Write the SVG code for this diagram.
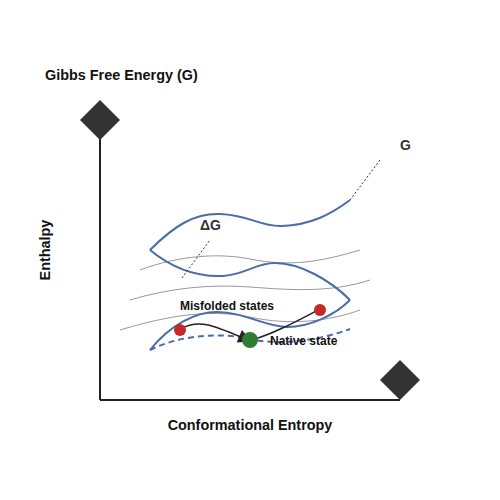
<svg xmlns="http://www.w3.org/2000/svg" width="500" height="500" viewBox="0 0 500 500">
<style>
.lbl{font-family:"Liberation Sans",Arial,sans-serif;font-weight:bold;fill:#111}
.blue{fill:none;stroke:#4a6ca8;stroke-width:2}
.gray{fill:none;stroke:#999;stroke-width:1}
.dot{fill:none;stroke:#333;stroke-width:1;stroke-dasharray:2,2}
</style>
<defs>
<marker id="ah" viewBox="0 0 10 10" refX="7" refY="5" markerWidth="10" markerHeight="9" markerUnits="strokeWidth" orient="auto">
<path d="M0,0 L10,5 L0,10 z" fill="#222"/>
</marker>
</defs>
<rect width="500" height="500" fill="#fff"/>
<g id="axes">
<line x1="100" y1="138" x2="100" y2="400" stroke="#222" stroke-width="2"/>
<line x1="100" y1="400" x2="400" y2="400" stroke="#222" stroke-width="2"/>
<path d="M100,100 L120,120 L100,140 L80,120 z" fill="#333"/>
<path d="M400,360 L420,380 L400,400 L380,380 z" fill="#333"/>
</g>
<g id="connectors">
<path class="gray" d="M140,270 C180,255 220,253 250,259 C290,267 320,262 360,250"/>
<path class="gray" d="M130,300 C170,288 210,284 250,287 C290,290 330,293 370,280"/>
<path class="gray" d="M120,330 C170,315 210,309 250,317 C290,326 330,321 360,310"/>
<path class="blue" d="M150,250 C175,225 195,213 220,214 C250,215 260,227 282,226 C310,225 330,215 350,200"/>
<path class="blue" d="M150,250 C172,268 195,277 222,276 C245,275 255,263 275,263 C300,263 330,280 350,300"/>
<path class="blue" d="M350,300 C335,315 310,327 287,327 C265,327 245,312 217,312 C195,312 170,325 150,350"/>
<path class="blue" stroke-dasharray="6,4" d="M150,350 C180,335 220,332 250,339 C280,346 320,340 350,329"/>
<line class="dot" x1="182" y1="278" x2="210" y2="240"/>
<line class="dot" x1="350" y1="200" x2="380" y2="160"/>
<path d="M180,329 C200,318 215,326 248,340" fill="none" stroke="#222" stroke-width="1.5" marker-end="url(#ah)"/>
<path d="M252,340 C275,333 295,322 320,309" fill="none" stroke="#222" stroke-width="1.5"/>
</g>
<g id="misfolded1"><circle cx="180" cy="330" r="6" fill="#c62828"/></g>
<g id="misfolded2"><circle cx="320" cy="310" r="6" fill="#c62828"/></g>
<g id="native"><circle cx="250" cy="340" r="8" fill="#2e7d32"/></g>
<g id="labels">
<text class="lbl" x="45" y="80" font-size="14.4">Gibbs Free Energy (G)</text>
<text class="lbl" x="250" y="430" font-size="14.4" text-anchor="middle">Conformational Entropy</text>
<text class="lbl" x="50" y="250" font-size="14.4" text-anchor="middle" transform="rotate(-90 50 250)">Enthalpy</text>
<text class="lbl" x="400" y="150" font-size="14" style="fill:#333">G</text>
<text class="lbl" x="200" y="230" font-size="14" style="fill:#333">ΔG</text>
<text class="lbl" x="180" y="310" font-size="12">Misfolded states</text>
<text class="lbl" x="270" y="345" font-size="12">Native state</text>
</g>
</svg>
